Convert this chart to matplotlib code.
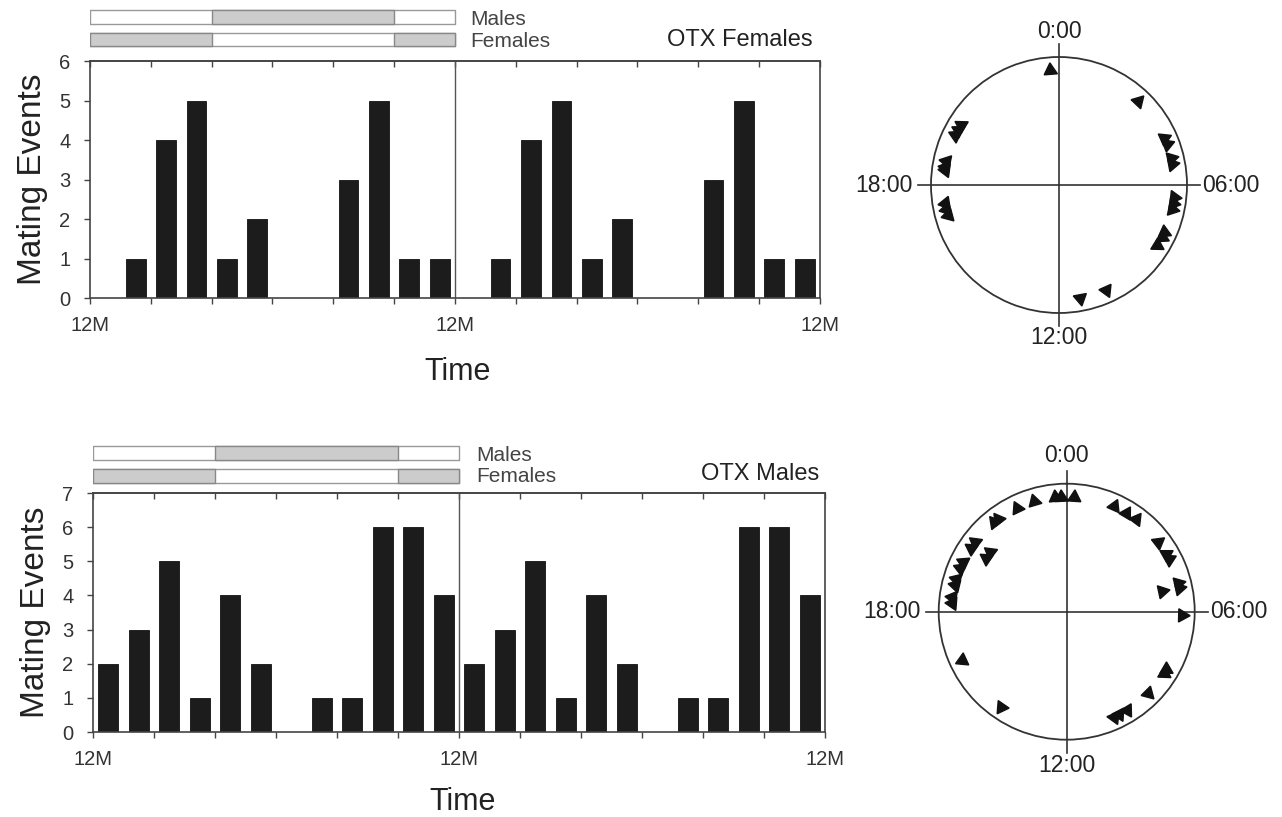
import numpy as np
import matplotlib.pyplot as plt

plt.rcParams['font.family'] = ['Liberation Sans', 'DejaVu Sans']

# 2 h bins across one day, double plotted
bin_centers = np.arange(1, 24, 2)
fem_counts = [0, 1, 4, 5, 1, 2, 0, 0, 3, 5, 1, 1]
male_counts = [2, 3, 5, 1, 4, 2, 0, 1, 1, 6, 6, 4]

# individual mating times (h)
fem_times = [2.9, 4.4, 4.6, 5.1, 5.3, 6.4, 6.6, 6.8, 7.6, 7.8, 8.1,
             10.4, 11.3, 17.0, 17.2, 17.4, 18.5, 18.6, 18.8, 19.7, 19.9,
             20.1, 23.7]
male_times = [0.25, 1.6, 2.05, 2.45, 3.5, 4.0, 4.2, 5.05, 5.2, 5.2, 6.1,
              8.0, 8.15, 9.0, 9.9, 10.2, 10.4, 14.3, 16.35,
              18.3, 18.5, 18.9, 19.1, 19.5, 19.7,
              20.25, 20.25, 20.5, 20.5, 21.4, 21.55,
              22.3, 22.9, 23.6, 23.8]

# dark phase (start, end) in hours for each light schedule
males_dark = [(8, 20)]
females_dark = [(0, 8), (20, 24)]

x_ticks = np.arange(0, 49, 4)
clock_labels = ['0:00', '06:00', '12:00', '18:00']

fig = plt.figure(figsize=(12.82, 8.17), dpi=100)

EDGE = '#444444'


def draw_hist(ax, counts, ymax):
    x = np.concatenate([bin_centers, bin_centers + 24])
    y = list(counts) + list(counts)
    ax.bar(x, y, width=1.3, color='#1c1c1c', edgecolor='#111111', lw=0.6)
    ax.axvline(24, color='#555555', lw=1)
    ax.set_xlim(0, 48)
    ax.set_ylim(0, ymax)
    ax.set_xticks(x_ticks)
    ax.set_xticklabels(['12M' if t % 24 == 0 else '' for t in x_ticks])
    ax.set_yticks(range(ymax + 1))
    ax.tick_params(axis='both', direction='out', length=4, width=1, color=EDGE,
                   labelsize=14.5, labelcolor='#333333')
    ax.tick_params(axis='x', pad=9)
    ax.tick_params(axis='y', pad=10)
    for s in ax.spines.values():
        s.set_color(EDGE)
        s.set_linewidth(1.2)
    top = ax.secondary_xaxis('top')
    top.set_xticks(x_ticks)
    top.tick_params(direction='in', length=4, width=1, color=EDGE, labeltop=False)
    top.spines['top'].set_color(EDGE)
    top.spines['top'].set_linewidth(1.2)
    ax.set_ylabel('Mating Events', fontsize=24, color='#222222')
    ax.yaxis.set_label_coords(-0.057, 0.5)
    ax.set_xlabel('Time', fontsize=22, color='#222222')


def draw_light(ax):
    ax.set_xlim(0, 48)
    ax.set_ylim(-0.5, 1.5)
    ax.axis('off')
    for yc, dark in ((1, males_dark), (0, females_dark)):
        ax.broken_barh([(0, 24)], (yc - 0.31, 0.62), facecolor='white',
                       edgecolor='#999999', lw=1)
        ax.broken_barh([(a, b - a) for a, b in dark], (yc - 0.31, 0.62),
                       facecolor='#cccccc', edgecolor='#888888', lw=1)


def stack_levels(times):
    levels = []
    placed = []
    for t in times:
        lvl = 0
        while any(abs(t - pt) < 0.05 and pl == lvl for pt, pl in placed):
            lvl += 1
        placed.append((t, lvl))
        levels.append(lvl)
    return levels


def draw_clock(ax, times, top_r, bot_r):
    ax.set_theta_zero_location('N')
    ax.set_theta_direction(-1)
    ax.set_ylim(0, 1)
    ax.grid(False)
    ax.set_xticks([])
    ax.set_yticks([])
    ax.spines['polar'].set_color('#333333')
    ax.spines['polar'].set_linewidth(1.3)
    for th in np.arange(4) * np.pi / 2:
        ax.plot([th, th], [0, 1.1], color='#333333', lw=1.2, clip_on=False)
    ax.text(0, top_r, clock_labels[0], ha='center', va='center', fontsize=16.5, color='#222222')
    ax.text(np.pi, bot_r, clock_labels[2], ha='center', va='center', fontsize=16.5, color='#222222')
    ax.text(np.pi / 2, 1.12, clock_labels[1], ha='left', va='center', fontsize=16.5, color='#222222')
    ax.text(3 * np.pi / 2, 1.14, clock_labels[3], ha='right', va='center', fontsize=16.5, color='#222222')
    for t, lvl in zip(times, stack_levels(times)):
        deg = t / 24 * 360
        ax.plot(np.radians(deg), 0.9 - 0.14 * lvl, linestyle='none',
                marker=(3, 0, -deg), ms=11, color='#111111', clip_on=False)


# top row: OTX females
ax1 = fig.add_axes([0.0702, 0.6352, 0.5694, 0.2901])
draw_hist(ax1, fem_counts, 6)
ax1.xaxis.set_label_coords(0.504, -0.25)
lt1 = fig.add_axes([0.0702, 1 - 50.75 / 817, 0.5694, 45 / 817])
draw_light(lt1)
fig.text(470 / 1282, 1 - 25 / 817, 'Males', fontsize=15, color='#444444', va='baseline')
fig.text(470 / 1282, 1 - 46.7 / 817, 'Females', fontsize=15, color='#444444', va='baseline')
fig.text(813 / 1282, 1 - 46.5 / 817, 'OTX Females', fontsize=17, color='#222222',
         ha='right', va='baseline')
pc1 = fig.add_axes([931 / 1282, 1 - 313 / 817, 256 / 1282, 256 / 817], projection='polar')
draw_clock(pc1, fem_times, 1.2, 1.19)

# bottom row: OTX males
ax2 = fig.add_axes([0.0725, 0.1040, 0.5710, 0.2925])
draw_hist(ax2, male_counts, 7)
ax2.xaxis.set_label_coords(0.505, -0.232)
lt2 = fig.add_axes([0.0725, 1 - 487.5 / 817, 0.5710, 46 / 817])
draw_light(lt2)
fig.text(476 / 1282, 1 - 460.7 / 817, 'Males', fontsize=15, color='#444444', va='baseline')
fig.text(476 / 1282, 1 - 482.3 / 817, 'Females', fontsize=15, color='#444444', va='baseline')
fig.text(819 / 1282, 1 - 480 / 817, 'OTX Males', fontsize=17, color='#222222',
         ha='right', va='baseline')
pc2 = fig.add_axes([938.7 / 1282, 1 - 739.7 / 817, 256 / 1282, 256 / 817], projection='polar')
draw_clock(pc2, male_times, 1.22, 1.2)

fig.savefig('out.png', dpi=100)
